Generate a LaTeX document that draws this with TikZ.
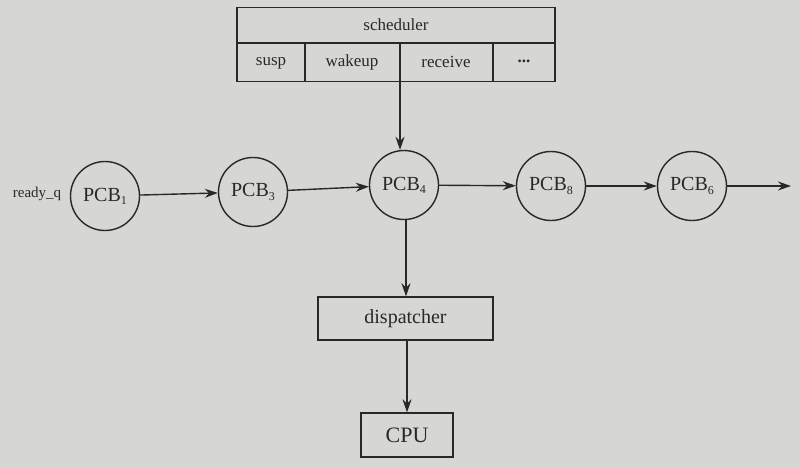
\documentclass[tikz,border=0pt]{standalone}
\usepackage{fontspec}
\setmainfont{Liberation Serif}
\usetikzlibrary{arrows.meta}
\definecolor{paper}{RGB}{214,214,210}
\definecolor{ink}{RGB}{40,40,40}
\newcommand{\pcbidx}[1]{\raisebox{-0.35ex}{\fontsize{12}{12}\selectfont #1}}
\begin{document}
\begin{tikzpicture}[x=1pt,y=-1pt,
  pcb/.style={circle,draw=ink,line width=1.4pt,minimum size=69pt,inner sep=0pt,text=ink,font=\fontsize{20}{22}\selectfont},
  boxn/.style={draw=ink,line width=1.4pt,text=ink,inner sep=0pt},
  cell/.style={text=ink,font=\fontsize{17}{19}\selectfont},
  arr/.style={draw=ink,line width=1.4pt,-{Stealth[length=13pt,width=9pt]}},
  ln/.style={draw=ink,line width=1.4pt}]
\fill[paper] (0,0) rectangle (800,468);
\useasboundingbox (0,0) rectangle (800,468);
% scheduler box
\node[boxn,minimum width=318pt,minimum height=74pt] (sched) at (396,44.5) {};
\draw[ln] (237,43) -- (555,43);
\draw[ln] (305,43) -- (305,81);
\draw[ln] (400,43) -- (400,81);
\draw[ln] (493,43) -- (493,81);
\node[cell] (schedt) at (396,25) {scheduler};
\node[cell] (susp) at (271,63) {susp};
\node[cell] (wake) at (352,62) {wakeup};
\node[cell] (recv) at (446,62) {receive};
\node[cell,font=\fontsize{17}{19}\selectfont\bfseries] (dots) at (524,61) {...};
\coordinate (schedout) at (400,81);
% PCBs
\node[text=ink,font=\fontsize{15}{17}\selectfont] (rq) at (37,194) {ready\_q};
\node[pcb] (p1) at (105,196) {PCB\pcbidx{1}};
\node[pcb] (p3) at (253,192) {PCB\pcbidx{3}};
\node[pcb] (p4) at (404,185) {PCB\pcbidx{4}};
\node[pcb] (p8) at (551,186) {PCB\pcbidx{8}};
\node[pcb] (p6) at (692,186) {PCB\pcbidx{6}};
\coordinate (qend) at (791,186);
\draw[arr] (p1) -- (p3);
\draw[arr] (p3) -- (p4);
\draw[arr] (p4) -- (p8);
\draw[arr] (p8) -- (p6);
\draw[arr] (p6) -- (qend);
\draw[arr] (schedout) -- (p4.north -| schedout);
% dispatcher and CPU
\node[boxn,minimum width=175pt,minimum height=43pt,font=\fontsize{20}{22}\selectfont] (disp) at (405.5,318.5) {dispatcher};
\node[boxn,minimum width=92pt,minimum height=44pt,font=\fontsize{22}{24}\selectfont] (cpu) at (407,435) {CPU};
\draw[arr] (p4.south -| 406,0) -- (disp.north -| 406,0);
\draw[arr] (disp.south -| 407,0) -- (cpu.north -| 407,0);
\end{tikzpicture}
\end{document}
